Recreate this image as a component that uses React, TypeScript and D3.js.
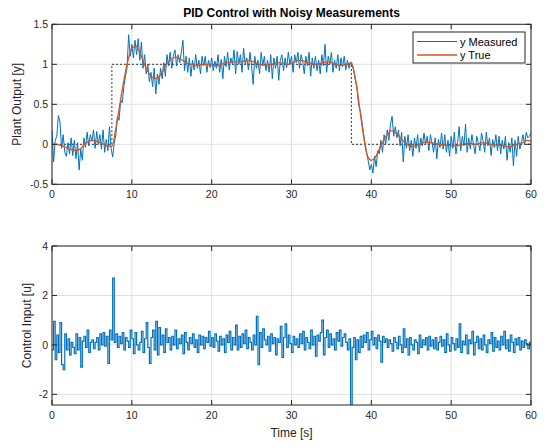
import React from 'react';
import * as d3 from 'd3';

const title = 'PID Control with Noisy Measurements';
const xTicks = [0, 10, 20, 30, 40, 50, 60];
const yTicksTop = [-0.5, 0, 0.5, 1, 1.5];
const yTicksBottom = [-2, 0, 2, 4];
const legendLabels = ['y Measured', 'y True'];

// Setpoint (stairs)
const spTimes = [0, 7.5, 37.5, 60];
const spValues = [0, 1, 0, 0];

// y True sampled every 0.5 s
const trueStep = 0.5;
const yTrue = [
  0, 0, -0.01, -0.03, -0.05, -0.07, -0.08, -0.06, -0.01, 0.03,
  0.05, 0.04, 0.02, 0.0, -0.02, -0.03, 0.2, 0.5, 0.8, 1.04,
  1.2, 1.23, 1.15, 1.02, 0.91, 0.84, 0.82, 0.86, 0.94, 1.02,
  1.07, 1.09, 1.07, 1.04, 1.01, 1.0, 0.99, 0.99, 1.0, 1.0,
  0.99, 0.98, 0.99, 1.01, 1.02, 1.03, 1.03, 1.03, 1.04, 1.05,
  1.04, 1.02, 1.0, 0.99, 0.99, 1.0, 1.01, 1.02, 1.01, 1.0,
  1.01, 1.04, 1.05, 1.04, 1.02, 1.01, 1.0, 1.01, 1.02, 1.03,
  1.02, 1.0, 0.99, 0.99, 1.0, 1.02, 0.82, 0.48, 0.12, -0.14,
  -0.2, -0.16, -0.06, 0.04, 0.12, 0.17, 0.15, 0.1, 0.04, 0.0,
  -0.03, -0.02, 0.0, 0.02, 0.03, 0.02, 0.01, 0.0, -0.01, -0.01,
  -0.02, -0.02, -0.01, 0.0, 0.01, 0.01, 0.0, 0.01, 0.02, 0.01,
  0.0, -0.01, -0.01, -0.02, -0.03, -0.03, -0.01, 0.01, 0.02, 0.05,
  0.04,
];

// y Measured sampled every 0.2 s
const measStep = 0.2;
const yMeasured = [
  0.18, -0.22, 0.05, 0.1, 0.36,
  0.28, -0.05, 0.12, -0.1, -0.15,
  0.02, -0.12, 0.08, -0.14, 0.05,
  -0.18, 0.02, -0.32, -0.06, -0.2,
  0.08, -0.04, 0.15, -0.02, 0.12,
  0.04, 0.18, -0.05, 0.16, 0.0,
  0.12, -0.06, 0.18, -0.1, 0.06,
  -0.08, 0.22, -0.05, -0.16, 0.02,
  0.12, 0.35, 0.3, 0.55, 0.52,
  0.72, 0.85, 0.95, 1.37, 1.1,
  1.25, 1.08, 1.3, 1.12, 1.32,
  1.05, 1.28, 0.95, 1.12, 0.88,
  1.0, 0.78, 0.9, 0.72, 0.95,
  0.63, 0.88, 0.75, 0.95, 0.82,
  1.02, 0.85, 1.12, 0.98, 1.15,
  0.95, 1.1, 1.18, 0.98, 1.12,
  1.02, 1.15, 1.3, 0.92, 1.1,
  0.9, 1.08, 0.85, 1.05, 0.93,
  1.12, 0.95, 1.05, 0.88, 1.1,
  0.98, 1.1, 0.9, 1.05, 0.96,
  1.08, 0.92, 1.04, 0.95, 1.12,
  0.9, 1.06, 0.82, 1.1, 0.97,
  1.15, 0.93, 1.08, 1.0, 1.18,
  0.88, 1.16, 1.0, 1.12, 0.9,
  1.2, 1.0, 1.08, 0.93, 1.15,
  0.98, 0.75, 1.1, 0.95, 1.05,
  0.88, 1.15, 0.98, 1.1, 0.92,
  1.05, 0.9, 1.12, 0.82, 1.08,
  0.95, 1.1, 0.8, 1.05, 1.12,
  0.92, 1.08, 0.96, 1.15, 1.0,
  1.1, 0.9, 1.12, 1.02, 1.15,
  0.95, 1.12, 1.04, 0.88, 1.1,
  0.98, 1.15, 0.85, 1.08, 0.95,
  1.1, 0.92, 1.05, 0.88, 1.12,
  0.98, 1.25, 0.9, 1.1, 1.0,
  1.15, 0.9, 1.05, 0.95, 1.12,
  0.92, 1.08, 0.97, 1.1, 0.93,
  1.05, 0.95, 1.03, 0.98, 0.92,
  0.8, 0.72, 0.5, 0.42, 0.3,
  0.15, 0.02, -0.1, -0.2, -0.32,
  -0.25, -0.36, -0.15, -0.28, -0.08,
  -0.12, 0.05, -0.1, 0.12, 0.0,
  0.18, 0.05, 0.25, 0.35, 0.1,
  0.22, 0.08, 0.18, -0.02, 0.15,
  -0.22, 0.1, -0.05, 0.12, -0.08,
  0.05, -0.15, 0.08, -0.05, 0.12,
  -0.1, 0.08, -0.02, 0.14, 0.0,
  0.1, -0.08, 0.12, 0.02, -0.1,
  0.08, -0.18, 0.06, -0.04, 0.14,
  -0.06, 0.12, -0.1, 0.05, -0.15,
  0.1, -0.05, 0.15, -0.12, 0.02,
  0.22, -0.08, 0.1, -0.02, 0.25,
  -0.1, 0.08, -0.06, 0.12, 0.0,
  -0.12, 0.1, 0.02, -0.08, 0.14,
  0.04, -0.1, 0.15, -0.02, 0.08,
  -0.14, 0.06, -0.04, 0.12, -0.08,
  0.1, -0.12, 0.05, -0.06, 0.1,
  -0.2, 0.02, -0.1, 0.08, -0.27,
  0.05, -0.15, 0.1, -0.06, 0.02,
  0.12, 0.0, 0.15, 0.08, 0.1,
  0.14,
];

// Control input u sampled every 0.2 s (stairs)
const uStep = 0.2;
const uValues = [
  -0.2, 0.95, -0.6, 0.4, -0.3,
  0.9, -0.8, -1.0, 0.45, -0.2,
  0.25, -0.4, 0.1, -0.1, -0.35,
  0.45, -0.2, 0.3, -0.9, 0.15,
  0.35, -0.1, 0.6, -0.3, 0.1,
  0.2, -0.15, 0.1, 0.3, -0.2,
  0.45, 0.0, 0.5, -0.05, 0.35,
  -0.75, 0.6, 0.2, 2.7, 0.1,
  0.45, -0.1, 0.35, 0.05, 0.5,
  -0.2, 0.3, 0.15, -0.1, 0.6,
  0.25, -0.35, 0.5, 0.0, -0.2,
  0.1, 0.55, -0.3, 0.25, 0.9,
  -0.1, -0.75, 0.3, 0.6, -0.2,
  0.95, -0.4, 0.7, 0.0, 0.4,
  -0.3, 0.65, 0.1, 0.3, -0.2,
  0.35, 0.0, 0.6, -0.15, 0.25,
  0.05, 0.4, -0.35, 0.5, 0.1,
  -0.2, 0.3, 0.05, 0.45, -0.1,
  0.2, -0.3, 0.4, 0.0, 0.35,
  -0.15, 0.3, 0.1, 0.55, -0.05,
  0.3, -0.1, 0.45, 0.15, -0.25,
  0.35, 0.0, 0.25, -0.3, 0.4,
  0.1, 0.55, -0.2, 0.3, 0.0,
  0.8, -0.2, 0.35, -0.1, 0.45,
  0.05, 0.6, -0.15, 0.3, 0.1,
  -0.2, 0.4, 0.0, 1.15, -0.8,
  0.5, -0.1, 0.65, 0.2, 0.0,
  0.35, -0.25, 0.45, 0.05, 0.3,
  -0.4, 0.25, 0.1, 0.75, -0.5,
  0.3, 0.85, -0.1, 0.4, 0.05,
  -0.3, 0.35, 0.0, 0.25, -0.1,
  0.45, 0.05, 0.55, -0.2, 0.3,
  0.1, -0.15, 0.6, 0.0, 0.35,
  -0.45, 0.4, 0.15, 0.5, 1.0,
  -0.4, 0.3, 0.6, -0.1, 0.45,
  0.0, 0.25, -0.2, 0.5, 0.15,
  0.6, -0.05, 0.3, 0.45, 0.1,
  -0.2, 0.25, -2.43, -0.1, 0.3,
  -0.6, 0.2, -0.3, 0.35, -0.1,
  0.4, 0.1, 0.5, -0.2, 0.2,
  0.55, 0.0, 0.3, -0.15, 0.4,
  0.15, -0.7, 0.35, 0.1, 0.25,
  -0.1, 0.2, 0.05, -0.25, 0.3,
  0.1, -0.15, 0.35, 0.0, -0.3,
  0.65, -0.1, 0.25, -0.4, 0.3,
  0.0, -0.2, 0.2, 0.1, -0.35,
  0.4, -0.1, 0.2, 0.0, 0.3,
  -0.2, 0.35, -0.05, 0.2, -0.15,
  0.3, -0.2, 0.1, 0.35, -0.05,
  0.2, -0.3, 0.45, 0.0, -0.25,
  0.3, 0.05, -0.2, 0.25, -0.1,
  0.85, -0.3, 0.15, 0.0, 0.4,
  -0.35, 0.2, 0.05, 0.55, -0.4,
  0.1, 0.35, -0.15, 0.25, -0.2,
  0.4, 0.0, -0.3, 0.2, 0.05,
  0.5, -0.25, 0.3, -0.1, 0.15,
  -0.2, 0.35, 0.0, 0.55, -0.15,
  0.2, -0.25, 0.4, 0.1, -0.3,
  0.25, 0.0, 0.3, -0.2, 0.15,
  -0.1, 0.2, 0.05, -0.15, 0.1,
  0.0,
];

const W = 551;
const H = 448;
const left = 52;
const right = 531;
const top1 = 24.3;
const bot1 = 184.3;
const top2 = 246;
const bot2 = 405;

const BLUE = '#0072BD';
const ORANGE = '#D95319';
const AX = '#262626';
const GRID = '#dfdfdf';
const FONT = 'Liberation Sans, Arial, Helvetica, sans-serif';

type Pt = [number, number];

function Axes(props: {
  id: string;
  y0: number;
  y1: number;
  yDomain: [number, number];
  yTicks: number[];
  ylabel: string;
  ylabelX: number;
  xlabel?: string;
  children: (x: d3.ScaleLinear<number, number>, y: d3.ScaleLinear<number, number>) => React.ReactNode;
}) {
  const x = d3.scaleLinear().domain([0, 60]).range([left, right]);
  const y = d3.scaleLinear().domain(props.yDomain).range([props.y1, props.y0]);
  const tl = 5;
  const fmt = (v: number) => (v < 0 ? '-' + String(Math.abs(v)) : String(v));
  return (
    <g>
      <defs>
        <clipPath id={props.id}>
          <rect x={left} y={props.y0} width={right - left} height={props.y1 - props.y0} />
        </clipPath>
      </defs>
      <rect x={left} y={props.y0} width={right - left} height={props.y1 - props.y0} fill="#fff" />
      {xTicks.map((t) => (
        <line key={'gx' + t} x1={x(t)} x2={x(t)} y1={props.y0} y2={props.y1} stroke={GRID} strokeWidth={1} />
      ))}
      {props.yTicks.map((t) => (
        <line key={'gy' + t} x1={left} x2={right} y1={y(t)} y2={y(t)} stroke={GRID} strokeWidth={1} />
      ))}
      <g clipPath={`url(#${props.id})`}>{props.children(x, y)}</g>
      <rect x={left} y={props.y0} width={right - left} height={props.y1 - props.y0} fill="none" stroke={AX} strokeWidth={1} />
      {xTicks.map((t) => (
        <g key={'tx' + t}>
          <line x1={x(t)} x2={x(t)} y1={props.y1} y2={props.y1 - tl} stroke={AX} />
          <line x1={x(t)} x2={x(t)} y1={props.y0} y2={props.y0 + tl} stroke={AX} />
          <text x={x(t)} y={props.y1 + 14} textAnchor="middle" fontSize={10.5} fill={AX} fontFamily={FONT}>
            {fmt(t)}
          </text>
        </g>
      ))}
      {props.yTicks.map((t) => (
        <g key={'ty' + t}>
          <line x1={left} x2={left + tl} y1={y(t)} y2={y(t)} stroke={AX} />
          <line x1={right} x2={right - tl} y1={y(t)} y2={y(t)} stroke={AX} />
          <text x={left - 4} y={y(t) + 3.8} textAnchor="end" fontSize={10.5} fill={AX} fontFamily={FONT}>
            {fmt(t)}
          </text>
        </g>
      ))}
      <text
        transform={`translate(${props.ylabelX},${(props.y0 + props.y1) / 2}) rotate(-90)`}
        textAnchor="middle"
        fontSize={12}
        fill={AX}
        fontFamily={FONT}
      >
        {props.ylabel}
      </text>
      {props.xlabel && (
        <text x={(left + right) / 2} y={props.y1 + 32} textAnchor="middle" fontSize={12} fill={AX} fontFamily={FONT}>
          {props.xlabel}
        </text>
      )}
    </g>
  );
}

export default function App() {
  const measPts: Pt[] = yMeasured.map((v, i) => [i * measStep, v]);
  const truePts: Pt[] = yTrue.map((v, i) => [i * trueStep, v]);
  const spPts: Pt[] = spTimes.map((t, i) => [t, spValues[i]]);
  const uPts: Pt[] = uValues.map((v, i) => [i * uStep, v]);

  return (
    <svg width={W} height={H} style={{ position: 'absolute', left: 0, top: 0, background: '#fff' }}>
      <rect width={W} height={H} fill="#fff" />
      <text x={(left + right) / 2} y={17} textAnchor="middle" fontSize={12} fontWeight="bold" fill="#000" fontFamily={FONT}>
        {title}
      </text>
      <Axes id="c1" y0={top1} y1={bot1} yDomain={[-0.5, 1.5]} yTicks={yTicksTop} ylabel="Plant Output [y]" ylabelX={21}>
        {(x, y) => {
          const line = d3.line<Pt>().x((d) => x(d[0])).y((d) => y(d[1]));
          const smooth = d3
            .line<Pt>()
            .x((d) => x(d[0]))
            .y((d) => y(d[1]))
            .curve(d3.curveMonotoneX);
          const stairs = d3
            .line<Pt>()
            .x((d) => x(d[0]))
            .y((d) => y(d[1]))
            .curve(d3.curveStepAfter);
          return (
            <>
              <path d={stairs(spPts) || ''} fill="none" stroke="#333" strokeWidth={1} strokeDasharray="2,2" />
              <path d={line(measPts) || ''} fill="none" stroke={BLUE} strokeWidth={1} strokeLinejoin="round" />
              <path d={smooth(truePts) || ''} fill="none" stroke={ORANGE} strokeWidth={1.3} />
            </>
          );
        }}
      </Axes>
      <g>
        <rect x={413} y={32} width={112} height={31} fill="#fff" stroke={AX} strokeWidth={1} />
        <line x1={417} x2={457} y1={41.5} y2={41.5} stroke={BLUE} strokeWidth={1} />
        <line x1={417} x2={457} y1={55} y2={55} stroke={ORANGE} strokeWidth={1.3} />
        <text x={460} y={45.5} fontSize={11} fill="#000" fontFamily={FONT}>
          {legendLabels[0]}
        </text>
        <text x={460} y={59} fontSize={11} fill="#000" fontFamily={FONT}>
          {legendLabels[1]}
        </text>
      </g>
      <Axes
        id="c2"
        y0={top2}
        y1={bot2}
        yDomain={[-2.43, 4]}
        yTicks={yTicksBottom}
        ylabel="Control Input [u]"
        ylabelX={31}
        xlabel="Time [s]"
      >
        {(x, y) => {
          const stairs = d3
            .line<Pt>()
            .x((d) => x(d[0]))
            .y((d) => y(d[1]))
            .curve(d3.curveStepAfter);
          return <path d={stairs(uPts) || ''} fill="none" stroke={BLUE} strokeWidth={1.2} />;
        }}
      </Axes>
    </svg>
  );
}
